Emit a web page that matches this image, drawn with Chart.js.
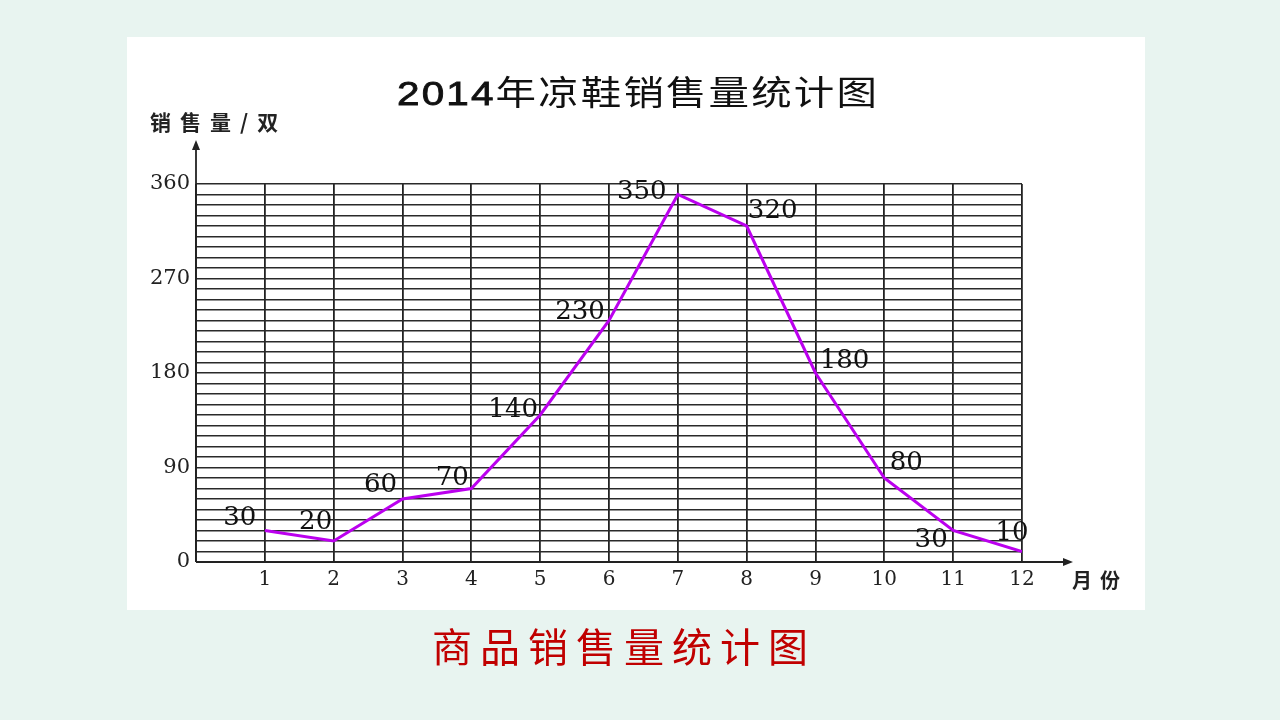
<!DOCTYPE html>
<html>
<head>
<meta charset="utf-8">
<script src="https://cdn.jsdelivr.net/npm/chart.js@4/dist/chart.umd.min.js"></script>
<style>
  html, body { margin: 0; padding: 0; }
  body { width: 1280px; height: 720px; background: #e8f4f0; position: relative; overflow: hidden; }
  #panel { position: absolute; left: 127px; top: 37px; width: 1018px; height: 573px; background: #ffffff; }
  #c { position: absolute; left: 0; top: 0; }
  .t { position: absolute; white-space: nowrap; }
  #title { left: 397px; top: 66px; font: 34px "Noto Sans CJK SC", "Liberation Sans", sans-serif; color: #111; transform-origin: 0 0; transform: scaleX(1.19); letter-spacing: 1.8px; }
  #title b { font-family: "Liberation Sans", Arial, sans-serif; font-weight: 400; -webkit-text-stroke: 0.8px #111; }
  #ylab { left: 150px; top: 106px; font: 700 21px "Noto Sans CJK SC", sans-serif; color: #222; letter-spacing: 9px; }
  #xlab { left: 1072px; top: 565px; font: 700 20px "Noto Sans CJK SC", sans-serif; color: #222; letter-spacing: 8px; }
  #caption { left: 432px; top: 616px; font: 40px "Noto Sans CJK SC", sans-serif; color: #c00000; letter-spacing: 8px; }
</style>
</head>
<body>
<div id="panel"></div>
<canvas id="c" width="1280" height="720"></canvas>
<div class="t" id="title"><b>2014</b>年凉鞋销售量统计图</div>
<div class="t" id="ylab">销售量/双</div>
<div class="t" id="xlab">月份</div>
<div class="t" id="caption">商品销售量统计图</div>
<script>
// ---- data ----
const months = [1, 2, 3, 4, 5, 6, 7, 8, 9, 10, 11, 12];
const sales = [30, 20, 60, 70, 140, 230, 350, 320, 180, 80, 30, 10];
const yTickLabels = [0, 90, 180, 270, 360];

// ---- label placement (style only: pixel offsets from each point) ----
const labelOffsets = [
  [-25, -12], [-18, -19], [-22, -14], [-19, -10], [-27, -5], [-29, -8],
  [-36, -2], [26, -15], [29, -12], [22, -15], [-22, 10], [-10, -18]
];

const points = months.map((m, i) => ({ x: m, y: sales[i] }));

const decor = {
  id: 'decor',
  afterDraw(chart) {
    const ctx = chart.ctx;
    const xs = chart.scales.x, ys = chart.scales.y;
    const x0 = xs.getPixelForValue(0), y0 = ys.getPixelForValue(0);
    ctx.save();
    ctx.strokeStyle = '#222';
    ctx.fillStyle = '#222';
    ctx.lineWidth = 1.8;
    // y axis with arrow
    ctx.beginPath();
    ctx.moveTo(x0, y0);
    ctx.lineTo(x0, 146);
    ctx.stroke();
    ctx.beginPath();
    ctx.moveTo(x0, 140); ctx.lineTo(x0 - 4, 150); ctx.lineTo(x0 + 4, 150); ctx.closePath();
    ctx.fill();
    // x axis with arrow
    ctx.beginPath();
    ctx.moveTo(x0, y0);
    ctx.lineTo(1066, y0);
    ctx.stroke();
    ctx.beginPath();
    ctx.moveTo(1073, y0); ctx.lineTo(1063, y0 - 4); ctx.lineTo(1063, y0 + 4); ctx.closePath();
    ctx.fill();
    // value labels
    ctx.font = '26px "DejaVu Serif", "Liberation Serif", serif';
    ctx.fillStyle = '#111';
    ctx.textAlign = 'center';
    ctx.textBaseline = 'middle';
    const meta = chart.getDatasetMeta(0);
    meta.data.forEach((pt, i) => {
      const o = labelOffsets[i];
      ctx.fillText(String(sales[i]), pt.x + o[0], pt.y + o[1]);
    });
    ctx.restore();
  }
};

new Chart(document.getElementById('c'), {
  type: 'line',
  data: {
    datasets: [{
      data: points,
      borderColor: '#bb00ee',
      borderWidth: 3,
      pointRadius: 0,
      tension: 0,
      fill: false
    }]
  },
  options: {
    responsive: false,
    devicePixelRatio: 1,
    animation: false,
    events: [],
    layout: { padding: { left: 136, right: 258, top: 184, bottom: 118 } },
    plugins: { legend: { display: false }, tooltip: { enabled: false }, title: { display: false } },
    scales: {
      x: {
        type: 'linear',
        min: 0, max: 12,
        afterFit(s) { s.height = 40; },
        border: { display: false },
        grid: { color: '#222', lineWidth: 1.8, drawTicks: false },
        ticks: {
          stepSize: 1,
          autoSkip: false,
          maxRotation: 0,
          padding: 6,
          color: '#222',
          font: { family: '"DejaVu Serif", "Liberation Serif", serif', size: 20 },
          callback: v => (v === 0 ? '' : String(v))
        }
      },
      y: {
        min: 0, max: 360,
        afterFit(s) { s.width = 60; },
        border: { display: false },
        grid: { color: '#2a2a2a', lineWidth: 1.5, drawTicks: false },
        ticks: {
          stepSize: 10,
          autoSkip: false,
          padding: 6,
          color: '#222',
          font: { family: '"DejaVu Serif", "Liberation Serif", serif', size: 21 },
          callback: v => (yTickLabels.includes(v) ? String(v) : '')
        }
      }
    }
  },
  plugins: [decor]
});
</script>
</body>
</html>
